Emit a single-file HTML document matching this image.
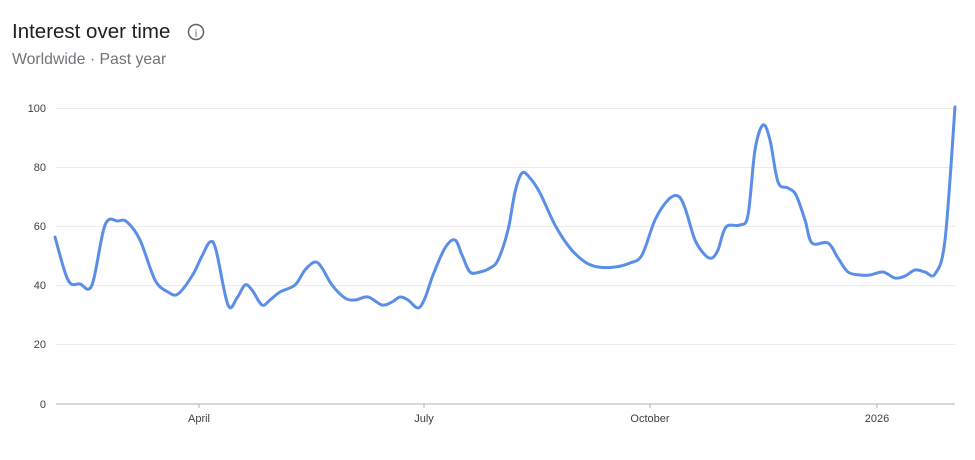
<!DOCTYPE html>
<html><head><meta charset="utf-8"><style>
body{margin:0;background:#fff;width:975px;height:455px;overflow:hidden;font-family:"Liberation Sans",sans-serif;}
</style></head><body>
<svg width="975" height="455" xmlns="http://www.w3.org/2000/svg" font-family="Liberation Sans, sans-serif">
<text x="12" y="38" font-size="20.5" fill="#202124">Interest over time</text>
<circle cx="196" cy="32" r="7.5" fill="none" stroke="#5f6368" stroke-width="1.5"/>
<text x="196" y="36.5" font-size="11" fill="#5f6368" text-anchor="middle" font-family="Liberation Serif, serif">i</text>
<text x="12" y="64" font-size="15.8" fill="#70757a">Worldwide · Past year</text>
<g stroke="#ebebeb" stroke-width="1">
<line x1="56" x2="955" y1="108.5" y2="108.5"/><line x1="56" x2="955" y1="167.5" y2="167.5"/>
<line x1="56" x2="955" y1="226.5" y2="226.5"/><line x1="56" x2="955" y1="285.5" y2="285.5"/>
<line x1="56" x2="955" y1="344.5" y2="344.5"/>
</g>
<line x1="56" x2="955" y1="404" y2="404" stroke="#b0b0b0" stroke-width="1"/>
<g stroke="#b0b0b0"><line x1="199" x2="199" y1="404" y2="408"/><line x1="424" x2="424" y1="404" y2="408"/><line x1="650" x2="650" y1="404" y2="408"/><line x1="877" x2="877" y1="404" y2="408"/></g>
<g font-size="11" fill="#3c4043" text-anchor="end">
<text x="46" y="112">100</text><text x="46" y="171">80</text><text x="46" y="230">60</text><text x="46" y="289">40</text><text x="46" y="348">20</text><text x="46" y="408">0</text>
</g>
<g font-size="11" fill="#3c4043" text-anchor="middle">
<text x="199" y="422">April</text><text x="424" y="422">July</text><text x="650" y="422">October</text><text x="877" y="422">2026</text>
</g>
<path id="p" fill="none" stroke="#5b8ee6" stroke-width="3" stroke-linejoin="round" stroke-linecap="round"/>
</svg>
<script>
var pts=[[55,237],[68,280],[80,284],[92,285],[105,225],[118,221],[127,222],[140,240],[155,280],[168,292],[178,294],[192,276],[202,256],[210,242],[216,250],[228,305],[237,298],[245,285],[252,290],[262,305],[270,300],[280,292],[295,285],[305,270],[315,262],[322,268],[332,285],[345,298],[355,300],[368,297],[382,305],[392,302],[400,297],[408,300],[418,308],[425,298],[433,275],[445,248],[455,240],[462,255],[470,272],[480,272],[490,268],[498,260],[508,230],[515,192],[522,173],[530,178],[540,193],[555,225],[570,248],[585,262],[598,267],[615,267],[630,263],[642,255],[655,220],[668,200],[678,196],[685,208],[695,240],[705,255],[712,258],[718,250],[726,227],[740,225],[748,215],[755,150],[763,125],[770,140],[778,182],[788,188],[796,195],[805,220],[812,243],[828,243],[838,258],[848,272],[860,275],[870,275],[883,272],[895,278],[905,276],[915,270],[925,272],[935,274],[945,240],[955,107]];
var d="M"+pts[0];
for(var i=0;i<pts.length-1;i++){var p0=pts[i-1]||pts[i],p1=pts[i],p2=pts[i+1],p3=pts[i+2]||p2;
d+=" C"+(p1[0]+(p2[0]-p0[0])/6)+","+(p1[1]+(p2[1]-p0[1])/6)+" "+(p2[0]-(p3[0]-p1[0])/6)+","+(p2[1]-(p3[1]-p1[1])/6)+" "+p2[0]+","+p2[1];}
document.getElementById("p").setAttribute("d",d);
</script>
</body></html>
